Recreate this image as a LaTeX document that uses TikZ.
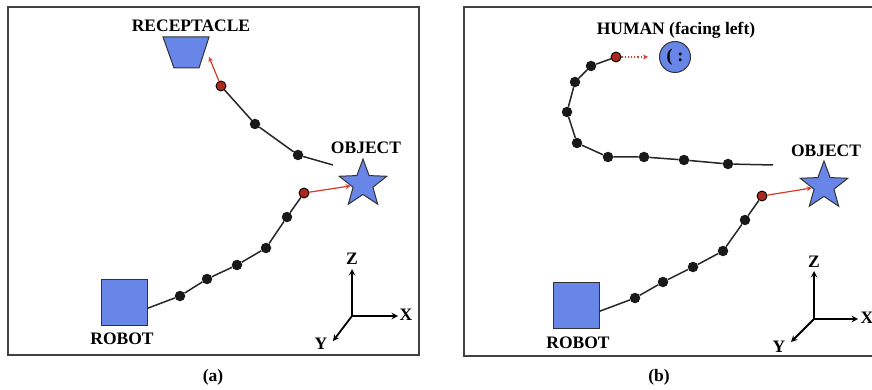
\documentclass[tikz,border=0pt]{standalone}
\usepackage{fontspec}
\setmainfont{Liberation Serif}
\usetikzlibrary{shapes.geometric}
\definecolor{partblue}{RGB}{104,134,232}
\definecolor{dotred}{RGB}{170,40,28}
\definecolor{pushred}{RGB}{214,58,40}
\tikzset{
  lbl/.style={font=\fontsize{17.5}{20}\selectfont\bfseries, inner sep=0pt},
  wp/.style={circle, fill=black!90, minimum size=10.5pt, inner sep=0pt},
  wpred/.style={circle, fill=dotred, draw=black, line width=0.9pt, minimum size=10pt, inner sep=0pt},
  link/.style={line width=1.5pt, black!85},
  push/.style={pushred, line width=1.2pt, ->, >=stealth},
  part/.style={fill=partblue, draw=black!80, line width=1pt},
  ax/.style={line width=1.8pt, ->, >=stealth},
}
\begin{document}
\begin{tikzpicture}[x=1pt,y=-1pt]
    \useasboundingbox (0,0) rectangle (872,390);
    \draw[line width=1.2pt, black!75] (8,7) rectangle (419,355);
    \draw[line width=1.2pt, black!75] (464,7) rectangle (884,356);
    \node[lbl] (capA) at (213,377) {(a)};
    \node[lbl] (capB) at (659,377) {(b)};
    % (a)
    \node[part, rectangle, minimum size=46pt, inner sep=0pt] (robotA) at (124,302) {};
    \node[lbl] (robotlblA) at (122,339) {ROBOT};
    \node[part, star, star points=5, star point ratio=2.4, minimum size=50pt, inner sep=0pt] (objA) at (363,184) {};
    \node[lbl] (objlblA) at (366,148) {OBJECT};
    \draw[part] (163,37) -- (209,37) -- (199,68) -- (174,68) -- cycle;
    \node[lbl] (reclblA) at (191,26) {RECEPTACLE};
    \node[wp] (a1) at (180,296) {};
    \node[wp] (a2) at (207,279) {};
    \node[wp] (a3) at (237,265) {};
    \node[wp] (a4) at (266,248) {};
    \node[wp] (a5) at (287,217) {};
    \node[wpred] (aR) at (304,193) {};
    \draw[link] (robotA.-15) -- (a1) -- (a2) -- (a3) -- (a4) -- (a5) -- (aR);
    \draw[push] (aR) -- (objA);
    \coordinate (startA) at (333,165);
    \node[wp] (a6) at (298,155) {};
    \node[wp] (a7) at (255,124) {};
    \node[wpred] (aS) at (221,86) {};
    \coordinate (recA) at (209,57);
    \draw[link] (startA) -- (a6) -- (a7) -- (aS);
    \draw[push] (aS) -- (recA);
    \coordinate (oA) at (352,316);
    \coordinate (zA) at (352,269);
    \coordinate (xA) at (398,316);
    \coordinate (yA) at (333,341);
    \draw[ax] (oA) -- (zA);
    \draw[ax] (oA) -- (xA);
    \draw[ax] (oA) -- (yA);
    \node[lbl] (zlblA) at (352,259) {Z};
    \node[lbl] (xlblA) at (406,315) {X};
    \node[lbl] (ylblA) at (321,344) {Y};
    % (b)
    \node[part, rectangle, minimum size=46pt, inner sep=0pt] (robotB) at (576,305) {};
    \node[lbl] (robotlblB) at (578,343) {ROBOT};
    \node[part, star, star points=5, star point ratio=2.4, minimum size=50pt, inner sep=0pt] (objB) at (824,186) {};
    \node[lbl] (objlblB) at (826,151) {OBJECT};
    \node[part, circle, minimum size=31pt, inner sep=0pt, font=\fontsize{18}{18}\selectfont\bfseries] (human) at (675,57) {(\;:};
    \node[lbl] (humlbl) at (676,30) {HUMAN (facing left)};
    \node[wp] (b1) at (635,298) {};
    \node[wp] (b2) at (663,282) {};
    \node[wp] (b3) at (693,267) {};
    \node[wp] (b4) at (723,251) {};
    \node[wp] (b5) at (745,220) {};
    \node[wpred] (bR) at (762,196) {};
    \draw[link] (robotB.-15) -- (b1) -- (b2) -- (b3) -- (b4) -- (b5) -- (bR);
    \draw[push] (bR) -- (objB);
    \coordinate (startB) at (773,165);
    \node[wp] (b6) at (728,164) {};
    \node[wp] (b7) at (684,160) {};
    \node[wp] (b8) at (644,157) {};
    \node[wp] (b9) at (608,157) {};
    \node[wp] (b10) at (577,143) {};
    \node[wp] (b11) at (567,112) {};
    \node[wp] (b12) at (575,82) {};
    \node[wp] (b13) at (591,66) {};
    \node[wpred] (bS) at (616,57) {};
    \draw[link] (startB) -- (b6) -- (b7) -- (b8) -- (b9) -- (b10) -- (b11) -- (b12) -- (b13) -- (bS);
    \draw[push, dotted, shorten >=11pt] (bS) -- (human);
    \coordinate (oB) at (814,319);
    \coordinate (zB) at (814,271);
    \coordinate (xB) at (858,319);
    \coordinate (yB) at (791,342);
    \draw[ax] (oB) -- (zB);
    \draw[ax] (oB) -- (xB);
    \draw[ax] (oB) -- (yB);
    \node[lbl] (zlblB) at (814,262) {Z};
    \node[lbl] (xlblB) at (867,318) {X};
    \node[lbl] (ylblB) at (779,347) {Y};
\end{tikzpicture}
\end{document}
